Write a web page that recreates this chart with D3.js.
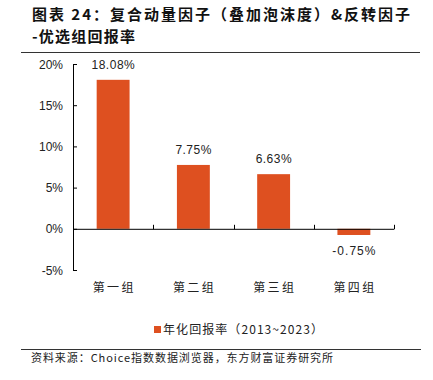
<!DOCTYPE html>
<html><head><meta charset="utf-8">
<script src="https://cdn.jsdelivr.net/npm/d3@7"></script>
<style>body{margin:0;background:#fff}svg{display:block}</style>
</head><body>
<script>
const categories = ["第一组","第二组","第三组","第四组"];
const values = [18.08, 7.75, 6.63, -0.75];
const labels = ["18.08%","7.75%","6.63%","-0.75%"];
const yTicks = [-5,0,5,10,15,20];
const seriesName = "年化回报率（2013~2023）";
const title1 = "图表 24：复合动量因子（叠加泡沫度）&反转因子";
const title2 = "-优选组回报率";
const source = "资料来源：Choice指数数据浏览器，东方财富证券研究所";

const W=433,H=380, color="#DE5020";
const font='"Noto Sans CJK SC", sans-serif';
const svg=d3.select("body").append("svg").attr("width",W).attr("height",H);

svg.append("text").attr("x",32).attr("y",20).attr("font-family",font).attr("font-weight","bold").attr("font-size",15).attr("fill","#111")
  .attr("textLength",378).attr("lengthAdjust","spacing").text(title1);
svg.append("text").attr("x",32).attr("y",42).attr("font-family",font).attr("font-weight","bold").attr("font-size",15).attr("fill","#111")
  .attr("textLength",103).attr("lengthAdjust","spacing").text(title2);
svg.append("line").attr("x1",21).attr("x2",420).attr("y1",52.5).attr("y2",52.5).attr("stroke","#333").attr("stroke-width",1);

const x=d3.scaleBand().domain(categories).range([73,394]).paddingInner(0.59).paddingOuter(0.295);
const y=d3.scaleLinear().domain([-5,20]).range([270,64]);

// y axis
const ya=svg.append("g").attr("transform","translate(73,0)").call(d3.axisRight(y).tickValues(yTicks).tickSize(4).tickFormat(""));
ya.select(".domain").attr("d","M4,64.5H0.5V270.5H4").attr("stroke","#000");
ya.selectAll(".tick line").attr("stroke","#000");
svg.append("g").selectAll("text").data(yTicks).join("text")
  .attr("x",63).attr("y",d=>y(d)+4.5).attr("text-anchor","end")
  .attr("font-family","Liberation Sans, Arial, sans-serif").attr("font-size",12).attr("fill","#222")
  .text(d=>d+"%");

// bars
svg.append("g").selectAll("rect").data(values).join("rect")
  .attr("x",(d,i)=>x(categories[i])).attr("width",x.bandwidth())
  .attr("y",d=>y(Math.max(0,d))).attr("height",d=>Math.abs(y(d)-y(0)))
  .attr("fill",color);

// x axis (zero line) with ticks at band boundaries going up
const z=y(0);
svg.append("line").attr("x1",73).attr("x2",394).attr("y1",z+0.5).attr("y2",z+0.5).attr("stroke","#000");
const bounds=categories.map(c=>x(c)-x.step()*x.paddingInner()/2).slice(1).concat([394]);
svg.append("g").selectAll("line").data(bounds).join("line")
  .attr("x1",d=>Math.round(d)+0.5).attr("x2",d=>Math.round(d)+0.5).attr("y1",z-4).attr("y2",z+0.5).attr("stroke","#000");

// value labels
svg.append("g").selectAll("text").data(values).join("text")
  .attr("x",(d,i)=>x(categories[i])+x.bandwidth()/2 - labels[i].length*3.6)
  .attr("y",d=>d>=0? y(d)-11 : y(d)+20)
  .attr("font-family","Liberation Sans, Arial, sans-serif").attr("font-size",12).attr("fill","#222")
  .attr("textLength",(d,i)=>labels[i].length*7.2).attr("lengthAdjust","spacing")
  .text((d,i)=>labels[i]);

// category labels
svg.append("g").selectAll("text").data(categories).join("text")
  .attr("x",d=>x(d)+x.bandwidth()/2-20.5).attr("y",292)
  .attr("textLength",41).attr("lengthAdjust","spacing")
  .attr("font-family",font).attr("font-size",12).attr("fill","#222").text(d=>d);

// legend
svg.append("rect").attr("x",154).attr("y",326).attr("width",7).attr("height",7).attr("fill",color);
svg.append("text").attr("x",163).attr("y",334).attr("font-family",font).attr("font-size",12).attr("fill","#222")
  .attr("textLength",160).attr("lengthAdjust","spacing").text(seriesName);

// source
svg.append("line").attr("x1",21).attr("x2",421).attr("y1",349.5).attr("y2",349.5).attr("stroke","#333");
svg.append("text").attr("x",31).attr("y",362).attr("font-family",font).attr("font-size",11).attr("fill","#222")
  .attr("textLength",302).attr("lengthAdjust","spacing").text(source);
</script>
</body></html>
